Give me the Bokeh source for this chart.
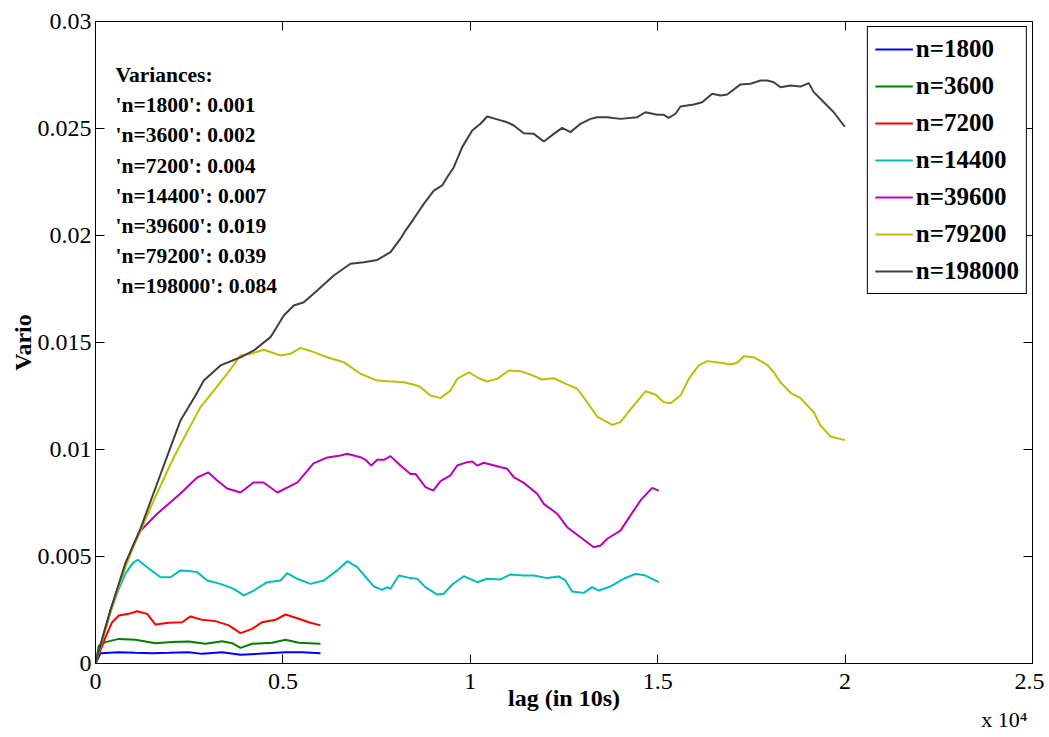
from bokeh.plotting import figure
from bokeh.models import (Label, Legend, LegendItem, LinearAxis, FixedTicker,
                          Range1d, CustomJSTickFormatter, Title)
from bokeh.embed import file_html
from bokeh.resources import INLINE

# ---------------- data ----------------
x_ticks = [0, 5000, 10000, 15000, 20000, 25000]
x_tick_labels = ["0", "0.5", "1", "1.5", "2", "2.5"]
y_ticks = [0, 0.005, 0.01, 0.015, 0.02, 0.025, 0.03]
y_tick_labels = ["0", "0.005", "0.01", "0.015", "0.02", "0.025", "0.03"]
x_multiplier = "x 10\u2074"

series_names = ["n=1800", "n=3600", "n=7200", "n=14400", "n=39600", "n=79200", "n=198000"]
series_colors = ["#0000FF", "#008000", "#FF0000", "#00BFBF", "#BF00BF", "#BFBF00", "#404040"]
variance_values = [0.001, 0.002, 0.004, 0.007, 0.019, 0.039, 0.084]

lag_1800 = [0, 133, 622, 1067, 1512, 1956, 2490, 2846, 3380, 3869, 4357, 5069, 5514, 6003]
vario_1800 = [0, 0.00048, 0.00053, 0.0005, 0.00048, 0.0005, 0.00053, 0.00045, 0.00053,
              0.00041, 0.00045, 0.00053, 0.00053, 0.00048]

lag_3600 = [0, 89, 267, 622, 1067, 1601, 2046, 2490, 2935, 3380, 3647, 3869, 4180, 4714,
            5069, 5425, 6003]
vario_3600 = [0, 0.00084, 0.0010, 0.00115, 0.00111, 0.00095, 0.0010, 0.00103, 0.00092,
              0.00104, 0.00095, 0.00073, 0.00092, 0.00097, 0.00111, 0.00097, 0.00092]

lag_7200 = [0, 267, 445, 622, 889, 1112, 1379, 1601, 1956, 2312, 2535, 2846, 3202, 3558,
            3869, 4180, 4447, 4803, 5069, 5425, 5691, 6003]
vario_7200 = [0, 0.00123, 0.00193, 0.00224, 0.00232, 0.00244, 0.00232, 0.00182, 0.0019,
              0.00193, 0.0022, 0.00204, 0.00198, 0.00178, 0.00142, 0.00162, 0.00193,
              0.00204, 0.00229, 0.00209, 0.00193, 0.00178]

lag_14400 = [0, 200, 400, 600, 800, 1000, 1129, 1379, 1734, 2001, 2268, 2535, 2713, 2980,
             3335, 3690, 3957, 4224, 4581, 4936, 5115, 5381, 5736, 6091, 6449, 6715, 6982,
             7249, 7425, 7649, 7783, 7871, 8092, 8404, 8583, 8804, 9117, 9293, 9517, 9826,
             10184, 10451, 10805, 11072, 11427, 11694, 12051, 12361, 12540, 12718, 13028,
             13252, 13428, 13740, 14095, 14407, 14674, 15029]
vario_14400 = [0, 0.0012, 0.0024, 0.0034, 0.0042, 0.0047, 0.00485, 0.0045, 0.00403, 0.00403,
               0.00435, 0.00431, 0.00427, 0.00388, 0.00372, 0.00349, 0.00318, 0.00341,
               0.0038, 0.00388, 0.00422, 0.00396, 0.00372, 0.00388, 0.00435, 0.00478,
               0.0045, 0.00396, 0.0036, 0.00344, 0.00357, 0.00349, 0.00411, 0.00399,
               0.00396, 0.00357, 0.00322, 0.00326, 0.00369, 0.00408, 0.0038, 0.00396,
               0.00393, 0.00416, 0.00411, 0.00411, 0.00399, 0.00407, 0.00388, 0.00336,
               0.0033, 0.00357, 0.00341, 0.0036, 0.00396, 0.00419, 0.00411, 0.0038]

lag_39600 = [0, 400, 800, 1000, 1200, 1646, 2268, 2713, 3015, 3247, 3514, 3869, 4216, 4482,
             4856, 5390, 5816, 6190, 6537, 6715, 7070, 7204, 7356, 7516, 7692, 7871, 8137,
             8404, 8538, 8804, 9010, 9205, 9471, 9650, 9917, 10050, 10184, 10360, 10717,
             10984, 11160, 11427, 11785, 11961, 12318, 12585, 12940, 13295, 13474, 13652,
             14007, 14274, 14541, 14853, 15029]
vario_39600 = [0, 0.0025, 0.0046, 0.0055, 0.0062, 0.0070, 0.00794, 0.00869, 0.00893,
               0.00855, 0.00818, 0.00799, 0.00846, 0.00846, 0.00799, 0.00846, 0.00935,
               0.00963, 0.00972, 0.0098, 0.00964, 0.00952, 0.00925, 0.00952, 0.00952,
               0.00969, 0.00925, 0.00886, 0.00886, 0.00824, 0.00808, 0.00852, 0.00879,
               0.00925, 0.00941, 0.00944, 0.00925, 0.00938, 0.00922, 0.0091, 0.00871,
               0.00844, 0.00793, 0.00746, 0.0070, 0.00637, 0.0059, 0.00543, 0.00551,
               0.00583, 0.00621, 0.00692, 0.00762, 0.00821, 0.00808]

lag_79200 = [0, 200, 400, 600, 800, 1000, 1200, 1600, 2090, 2500, 2801, 2980, 3514, 3869,
             4135, 4490, 4936, 5203, 5470, 5824, 6182, 6625, 7070, 7516, 8226, 8583, 8671,
             8938, 9205, 9471, 9650, 9960, 10226, 10450, 10717, 11027, 11339, 11606, 11918,
             12228, 12585, 12852, 13119, 13385, 13786, 14007, 14274, 14541, 14674, 14941,
             15162, 15341, 15608, 15829, 16096, 16320, 16675, 16942, 17121, 17297, 17564,
             17921, 18097, 18276, 18543, 18809, 19165, 19343, 19610, 19965, 20000]
vario_79200 = [0, 0.0012, 0.0024, 0.0035, 0.0045, 0.0054, 0.0062, 0.0078, 0.00964, 0.0110,
               0.01198, 0.01237, 0.01354, 0.01439, 0.01447, 0.01466, 0.01439, 0.01447,
               0.01475, 0.01455, 0.01431, 0.01408, 0.01354, 0.01322, 0.01314, 0.01299,
               0.01291, 0.01252, 0.0124, 0.01276, 0.0133, 0.01361, 0.01333, 0.01318,
               0.0133, 0.01369, 0.01366, 0.0135, 0.01327, 0.01333, 0.01304, 0.01284,
               0.01221, 0.01154, 0.01115, 0.01128, 0.01187, 0.01244, 0.01272, 0.01257,
               0.01221, 0.01216, 0.01252, 0.0133, 0.01393, 0.01413, 0.01405, 0.01397,
               0.01405, 0.01436, 0.01431, 0.01396, 0.01361, 0.01314, 0.01265, 0.0124,
               0.01174, 0.01112, 0.01061, 0.01045, 0.01045]

lag_198000 = [0, 200, 400, 600, 800, 1000, 1200, 1600, 2000, 2268, 2668, 2890, 3335, 3869,
              4224, 4669, 5024, 5291, 5558, 5915, 6358, 6803, 7158, 7516, 7871, 8138, 8271,
              8492, 8759, 9026, 9250, 9383, 9560, 9784, 10050, 10272, 10451, 10672, 10984,
              11160, 11427, 11694, 11961, 12228, 12451, 12673, 12940, 13207, 13385, 13652,
              14007, 14453, 14674, 14986, 15162, 15296, 15474, 15608, 15962, 16187, 16454,
              16675, 16854, 17209, 17475, 17742, 17921, 18097, 18276, 18543, 18809, 19031,
              19165, 19432, 19698, 19965, 20000]
vario_198000 = [0, 0.0013, 0.0025, 0.0036, 0.0047, 0.0055, 0.0063, 0.0082, 0.0101, 0.01136,
                0.01252, 0.01322, 0.01393, 0.01431, 0.01463, 0.01525, 0.01626, 0.01673,
                0.01688, 0.01743, 0.01813, 0.01868, 0.01875, 0.01886, 0.01922, 0.01985,
                0.02023, 0.02078, 0.02148, 0.0221, 0.02234, 0.02272, 0.02319, 0.02413,
                0.02491, 0.02522, 0.02556, 0.02545, 0.02529, 0.02514, 0.02478, 0.02475,
                0.02439, 0.02475, 0.02503, 0.02483, 0.02522, 0.02545, 0.02553, 0.02553,
                0.02545, 0.02553, 0.02576, 0.02564, 0.02564, 0.0255, 0.02569, 0.02603,
                0.02612, 0.02623, 0.02662, 0.02654, 0.02659, 0.02706, 0.02709, 0.02724,
                0.02724, 0.02716, 0.02693, 0.02701, 0.02696, 0.02712, 0.0267, 0.02623,
                0.02576, 0.02514, 0.0251]

all_lags = [lag_1800, lag_3600, lag_7200, lag_14400, lag_39600, lag_79200, lag_198000]
all_varios = [vario_1800, vario_3600, vario_7200, vario_14400, vario_39600, vario_79200, vario_198000]

# ---------------- figure ----------------
FONT = "Liberation Serif"
X_MAX, Y_MAX = 25000, 0.03
FRAME_W, FRAME_H = 937, 642

p = figure(width=1044, height=736, x_range=Range1d(0, X_MAX), y_range=Range1d(0, Y_MAX),
           output_backend="svg", toolbar_location=None,
           min_border_left=95, min_border_right=12, min_border_top=21, min_border_bottom=73)
p.xgrid.visible = False
p.ygrid.visible = False
p.background_fill_color = "white"
p.border_fill_color = "white"
p.outline_line_color = "black"
p.outline_line_alpha = 1
p.outline_line_width = 1


def style_axis(ax, ticks):
    ax.ticker = FixedTicker(ticks=ticks)
    ax.major_tick_in = 9
    ax.major_tick_out = 0
    ax.minor_tick_in = 0
    ax.minor_tick_out = 0
    ax.axis_line_color = "black"
    ax.major_tick_line_color = "black"
    ax.major_label_text_font = FONT
    ax.major_label_text_font_size = "24px"
    ax.major_label_text_color = "black"
    ax.axis_label_text_font = FONT
    ax.axis_label_text_font_style = "bold"
    ax.axis_label_text_font_size = "24px"
    ax.axis_label_text_color = "black"


xa = p.xaxis[0]
style_axis(xa, x_ticks)
xa.major_label_overrides = dict(zip(x_ticks, x_tick_labels))
xa.major_label_standoff = 10
xa.axis_label = "lag (in 10s)"
xa.axis_label_standoff = -7

ya = p.yaxis[0]
style_axis(ya, y_ticks)
ya.major_label_overrides = dict(zip(y_ticks, y_tick_labels))
ya.major_label_standoff = 4
ya.axis_label = "Vario"
ya.axis_label_standoff = -1

top_ax = LinearAxis(formatter=CustomJSTickFormatter(code="return ''"))
style_axis(top_ax, x_ticks)
top_ax.major_label_text_font_size = "0px"
top_ax.major_label_standoff = 0
p.add_layout(top_ax, "above")

right_ax = LinearAxis(formatter=CustomJSTickFormatter(code="return ''"))
style_axis(right_ax, y_ticks)
right_ax.major_label_text_font_size = "0px"
right_ax.major_label_standoff = 0
p.add_layout(right_ax, "right")

# exponent of the x axis, in the panel below the axis (not clipped by the frame)
p.add_layout(Title(text=x_multiplier, align="right", vertical_align="top", offset=5,
                   standoff=-14, text_font=FONT, text_font_size="22px",
                   text_font_style="normal", text_color="black"), "below")

items = []
for name, color, xs, ys in zip(series_names, series_colors, all_lags, all_varios):
    r = p.line(xs, ys, line_color=color, line_width=2)
    items.append(LegendItem(label=name, renderers=[r]))

legend = Legend(items=items, location="top_right", border_line_color="black",
                border_line_width=1, border_line_alpha=1,
                label_text_font=FONT, label_text_font_style="bold",
                label_text_font_size="25px", label_text_color="black",
                glyph_width=38, glyph_height=30, label_height=30, spacing=7,
                padding=7, margin=5, label_standoff=3, background_fill_alpha=1)
p.add_layout(legend)

# variances annotation
px_x = X_MAX / FRAME_W
px_y = Y_MAX / FRAME_H
text_x = 20 * px_x
first_base = Y_MAX - 53.5 * px_y
line_step = 30.2 * px_y
lines = ["Variances:"] + ["'%s': %.3f" % (n, v) for n, v in zip(series_names, variance_values)]
for i, t in enumerate(lines):
    p.add_layout(Label(x=text_x, y=first_base - i * line_step, text=t,
                       text_font=FONT, text_font_style="bold", text_font_size="21.5px",
                       text_color="black", text_baseline="alphabetic"))

open("out.html", "w").write(file_html(p, INLINE))
